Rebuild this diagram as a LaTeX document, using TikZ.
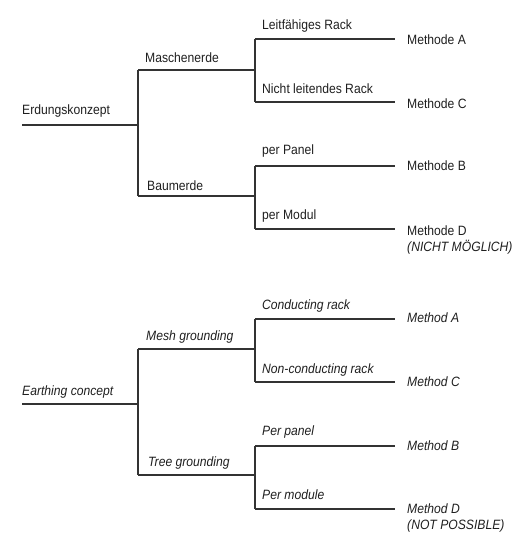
\documentclass[tikz,border=0pt]{standalone}
\usepackage{fontspec}
\setmainfont{Liberation Sans}[FakeStretch=0.9]
\begin{document}
\begin{tikzpicture}[x=1pt,y=-1pt,
  branch/.style={draw=black!80,line width=1.4pt},
  lbl/.style={anchor=base west,inner sep=0pt,text=black!88,font=\fontsize{13.5}{16}\selectfont},
  ilbl/.style={lbl,font=\fontsize{13.5}{16}\selectfont\itshape}]
\useasboundingbox (0,0) rectangle (518,540);
% ---------- German tree ----------
\coordinate (gR) at (22,125);
\coordinate (gJ) at (138,125);
\coordinate (gJt) at (138,70);
\coordinate (gJb) at (138,196);
\coordinate (gK1) at (255,70);
\coordinate (gK2) at (255,196);
\coordinate (gK1t) at (255,39);
\coordinate (gK1b) at (255,102);
\coordinate (gK2t) at (255,166);
\coordinate (gK2b) at (255,229);
\coordinate (gEA) at (395,39);
\coordinate (gEC) at (395,102);
\coordinate (gEB) at (395,166);
\coordinate (gED) at (395,229);
\draw[branch] (gR) -- (gJ);
\draw[branch] (gJt) -- (gJb);
\draw[branch] (gJt) -- (gK1);
\draw[branch] (gJb) -- (gK2);
\draw[branch] (gK1t) -- (gK1b);
\draw[branch] (gK2t) -- (gK2b);
\draw[branch] (gK1t) -- (gEA);
\draw[branch] (gK1b) -- (gEC);
\draw[branch] (gK2t) -- (gEB);
\draw[branch] (gK2b) -- (gED);
\node[lbl] (gtR) at (22,114.5) {Erdungskonzept};
\node[lbl] (gtM) at (145,62.7) {Maschenerde};
\node[lbl] (gtB) at (147,190) {Baumerde};
\node[lbl] (gtL) at (262,29.3) {Leitfähiges Rack};
\node[lbl] (gtN) at (262,93.3) {Nicht leitendes Rack};
\node[lbl] (gtP) at (262,154.5) {per Panel};
\node[lbl] (gtO) at (262,219.5) {per Modul};
\node[lbl] (gmA) at (407,44.3) {Methode A};
\node[lbl] (gmC) at (407,108.3) {Methode C};
\node[lbl] (gmB) at (407,170.7) {Methode B};
\node[lbl] (gmD) at (407,235) {Methode D};
\node[ilbl] (gmN) at (407,251.5) {(NICHT MÖGLICH)};
% ---------- English tree ----------
\coordinate (eR) at (22,404);
\coordinate (eJ) at (138,404);
\coordinate (eJt) at (138,349);
\coordinate (eJb) at (138,475);
\coordinate (eK1) at (255,349);
\coordinate (eK2) at (255,475);
\coordinate (eK1t) at (255,319);
\coordinate (eK1b) at (255,382);
\coordinate (eK2t) at (255,446);
\coordinate (eK2b) at (255,509);
\coordinate (eEA) at (395,319);
\coordinate (eEC) at (395,382);
\coordinate (eEB) at (395,446);
\coordinate (eED) at (395,509);
\draw[branch] (eR) -- (eJ);
\draw[branch] (eJt) -- (eJb);
\draw[branch] (eJt) -- (eK1);
\draw[branch] (eJb) -- (eK2);
\draw[branch] (eK1t) -- (eK1b);
\draw[branch] (eK2t) -- (eK2b);
\draw[branch] (eK1t) -- (eEA);
\draw[branch] (eK1b) -- (eEC);
\draw[branch] (eK2t) -- (eEB);
\draw[branch] (eK2b) -- (eED);
\node[ilbl] (etR) at (22,395) {Earthing concept};
\node[ilbl] (etM) at (146,340) {Mesh grounding};
\node[ilbl] (etB) at (148,466) {Tree grounding};
\node[ilbl] (etL) at (262,309) {Conducting rack};
\node[ilbl] (etN) at (262,373.3) {Non-conducting rack};
\node[ilbl] (etP) at (262,435) {Per panel};
\node[ilbl] (etO) at (262,499) {Per module};
\node[ilbl] (emA) at (407,322.7) {Method A};
\node[ilbl] (emC) at (407,386.7) {Method C};
\node[ilbl] (emB) at (407,450) {Method B};
\node[ilbl] (emD) at (407,513.3) {Method D};
\node[ilbl] (emN) at (407,529.5) {(NOT POSSIBLE)};
\end{tikzpicture}
\end{document}
